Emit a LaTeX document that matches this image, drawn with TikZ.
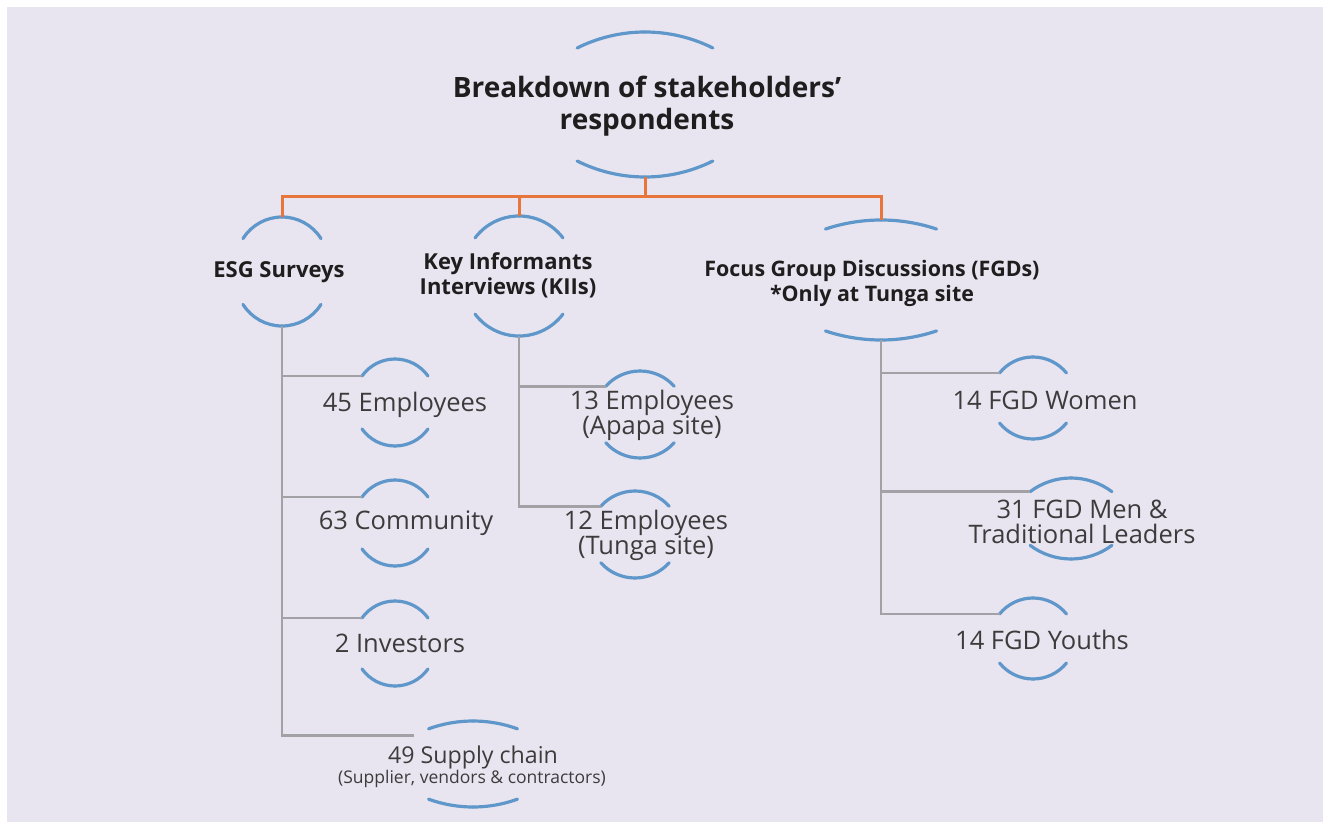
\documentclass[tikz,border=0pt]{standalone}
\usepackage{fontspec}
\setmainfont{Open Sans}
\usetikzlibrary{calc}
\definecolor{panelbg}{HTML}{E9E5F0}
\definecolor{ringblue}{HTML}{5F97CB}
\definecolor{busorange}{HTML}{E8763C}
\definecolor{treegrey}{HTML}{A2A2A6}
\definecolor{headtxt}{HTML}{1E1E1E}
\definecolor{itemtxt}{HTML}{3C3C3C}
\tikzset{
  ringline/.style={draw=ringblue, line width=3.2pt, line cap=round},
  busline/.style={draw=busorange, line width=3pt},
  treeline/.style={draw=treegrey, line width=2.8pt},
  headlabel/.style={text=headtxt, align=center, inner sep=0pt, font=\bfseries\fontsize{22}{25}\selectfont},
  titlelabel/.style={text=headtxt, align=center, inner sep=0pt, font=\bfseries\fontsize{28}{32}\selectfont},
  itemlabel/.style={text=itemtxt, align=center, inner sep=0pt, font=\fontsize{25.5}{25}\selectfont},
}
% #1 name, #2 centre, #3 half gap between the two apexes, #4 radius, #5 half angle
\newcommand\ringpair[5]{%
  \coordinate (#1-c) at #2;
  \coordinate (#1-t) at ($(#1-c)+(0,-#3)$);
  \coordinate (#1-b) at ($(#1-c)+(0,#3)$);
  \draw[ringline] (#1-t) arc[start angle=90,end angle=90+#5,radius=#4pt] coordinate (#1-l);
  \draw[ringline] (#1-t) arc[start angle=90,end angle=90-#5,radius=#4pt];
  \draw[ringline] (#1-b) arc[start angle=270,end angle=270-#5,radius=#4pt];
  \draw[ringline] (#1-b) arc[start angle=270,end angle=270+#5,radius=#4pt];
}
\begin{document}
\begin{tikzpicture}[x=1pt,y=-1pt]
\useasboundingbox (0,0) rectangle (1328,826);
\fill[white] (0,0) rectangle (1328,826);
\fill[panelbg] (7,7) rectangle (1323,822);

% rings
\ringpair{title}{(645,104.5)}{72.5}{152}{26.5}
\ringpair{esg}{(282,271.5)}{54.5}{46}{58}
\ringpair{kii}{(519,276)}{60}{55}{53}
\ringpair{fgd}{(881,280)}{60}{175}{18.5}
\ringpair{e45}{(395,402.5)}{43.5}{40.5}{54.6}
\ringpair{c63}{(395,523)}{43}{40.5}{54.6}
\ringpair{inv}{(395,643.5)}{42.5}{40.5}{54.6}
\ringpair{sup}{(473,764)}{43}{130}{20}
\ringpair{e13}{(640,414.5)}{43.5}{46}{48}
\ringpair{e12}{(635,534.5)}{43.5}{46}{48}
\ringpair{wom}{(1033,398)}{41}{43}{51}
\ringpair{men}{(1071,518.5)}{40.5}{68}{37}
\ringpair{you}{(1033,638.5)}{40.5}{43}{51}

% labels
\node[titlelabel] (title) at (647,106) {Breakdown of stakeholders’\\respondents};
\node[headlabel] (esg) at (279,272) {ESG Surveys};
\node[headlabel] (kii) at (508,275) {Key Informants\\Interviews (KIIs)};
\node[headlabel, font=\bfseries\fontsize{21.4}{25}\selectfont] (fgd) at (872,283) {Focus Group Discussions (FGDs)\\*Only at Tunga site};
\node[itemlabel] (e45) at (405,405) {45 Employees};
\node[itemlabel] (c63) at (406,523) {63 Community};
\node[itemlabel] (inv) at (400,643) {2 Investors};
\node[itemlabel, font=\fontsize{23.2}{23}\selectfont] (sup) at (473,757) {49 Supply chain};
\node[itemlabel, font=\fontsize{17.5}{18}\selectfont] (supsub) at (472,779) {(Supplier, vendors \& contractors)};
\node[itemlabel] (e13) at (652,415) {13 Employees\\(Apapa site)};
\node[itemlabel] (e12) at (646,535) {12 Employees\\(Tunga site)};
\node[itemlabel] (wom) at (1045,400) {14 FGD Women};
\node[itemlabel] (men) at (1082,522) {31 FGD Men \&\\Traditional Leaders};
\node[itemlabel] (you) at (1042,640) {14 FGD Youths};

% orange bus
\coordinate (bus) at ($(title-b)+(0,20)$);
\draw[busline] (title-b) -- (bus);
\draw[busline] (esg-t) |- (bus) -| (fgd-t);
\draw[busline] (kii-t) -- (kii-t |- bus);

% grey tree
\draw[treeline] (esg-b) |- (e45-l);
\draw[treeline] (esg-b) |- (c63-l);
\draw[treeline] (esg-b) |- (inv-l);
\draw[treeline] (esg-b) |- ($(sup-l)+(-15,7)$);
\draw[treeline] (kii-b) |- (e13-l);
\draw[treeline] (kii-b) |- (e12-l);
\draw[treeline] (fgd-b) |- (wom-l);
\draw[treeline] (fgd-b) |- (men-l);
\draw[treeline] (fgd-b) |- (you-l);
\end{tikzpicture}
\end{document}
